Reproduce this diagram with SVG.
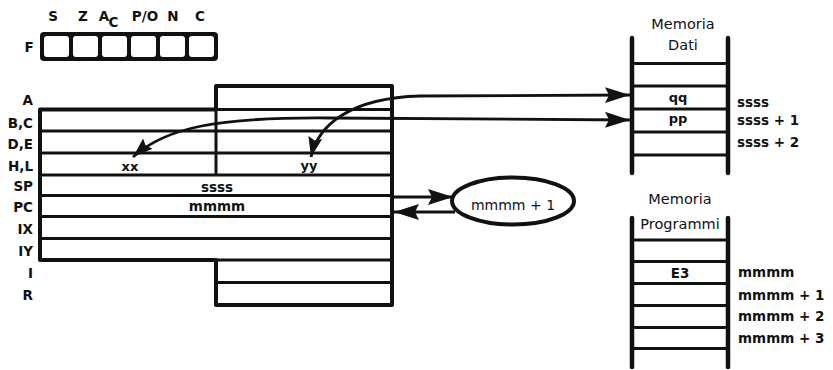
<svg xmlns="http://www.w3.org/2000/svg" width="833" height="370" viewBox="0 0 833 370">
<style>
.lbl{font-family:"DejaVu Sans","Liberation Sans",sans-serif;font-weight:bold;font-size:13.5px;fill:#111}
.reg{text-anchor:end}
.mid{text-anchor:middle}
.title{font-family:"DejaVu Sans","Liberation Sans",sans-serif;font-size:14.5px;fill:#111;text-anchor:middle}
.outline{fill:#fff;stroke:#111;stroke-width:4;stroke-linejoin:round}
.row{fill:none;stroke:#111;stroke-width:3}
.rail{stroke:#111;stroke-width:4.5;stroke-linecap:round}
.cell{stroke:#111;stroke-width:3}
.conn{fill:none;stroke:#111;stroke-width:2.8}
</style>
<defs>
<marker id="ah" markerUnits="userSpaceOnUse" markerWidth="28" markerHeight="18" refX="25" refY="8" orient="auto-start-reverse">
<path d="M0,0 L25,8 L0,16 L4,8 z" fill="#111"/>
</marker>
<marker id="ahs" markerUnits="userSpaceOnUse" markerWidth="22" markerHeight="16" refX="20" refY="7" orient="auto-start-reverse">
<path d="M0,0 L20,7 L0,14 L3,7 z" fill="#111"/>
</marker>
</defs>
<rect width="833" height="370" fill="#fff"/>

<g id="flags">
<text class="lbl mid" x="53" y="21">S</text>
<text class="lbl mid" x="83" y="21">Z</text>
<text class="lbl mid" x="104" y="21">A</text>
<text class="lbl mid" x="113.5" y="26.5">C</text>
<text class="lbl mid" x="145" y="21">P/O</text>
<text class="lbl mid" x="173" y="21">N</text>
<text class="lbl mid" x="200" y="21">C</text>
<text class="lbl mid" x="29" y="51.5">F</text>
<rect x="40" y="32" width="178" height="29" rx="4" fill="#111"/>
<rect x="44" y="36" width="25" height="21" rx="3" fill="#fff"/>
<rect x="73" y="36" width="25" height="21" rx="3" fill="#fff"/>
<rect x="102" y="36" width="25" height="21" rx="3" fill="#fff"/>
<rect x="131" y="36" width="25" height="21" rx="3" fill="#fff"/>
<rect x="160" y="36" width="25" height="21" rx="3" fill="#fff"/>
<rect x="189" y="36" width="25" height="21" rx="3" fill="#fff"/>
</g>

<g id="registers">
<path class="outline" d="M40,109.5 H216 V86 H392 V305 H216 V260 H40 Z"/>
<path class="row" d="M216,109.5 H392 M40,131 H392 M40,153 H392 M40,175 H392 M40,195.5 H392 M40,216.5 H392 M40,238.5 H392 M216,260 H392 M216,282.5 H392 M216,109.5 V175"/>
<text class="lbl reg" x="33" y="105">A</text>
<text class="lbl reg" x="33" y="127.5">B,C</text>
<text class="lbl reg" x="33" y="149">D,E</text>
<text class="lbl reg" x="33" y="171">H,L</text>
<text class="lbl reg" x="33" y="191">SP</text>
<text class="lbl reg" x="33" y="212">PC</text>
<text class="lbl reg" x="33" y="234">IX</text>
<text class="lbl reg" x="33" y="255.5">IY</text>
<text class="lbl reg" x="33" y="277.5">I</text>
<text class="lbl reg" x="33" y="300">R</text>
<text class="lbl mid" x="130" y="171" style="font-size:13px">xx</text>
<text class="lbl mid" x="309" y="170" style="font-size:13px">yy</text>
<text class="lbl mid" x="217" y="192">ssss</text>
<text class="lbl mid" x="217" y="210.5">mmmm</text>
</g>

<g id="incrementer">
<ellipse cx="513" cy="201" rx="61" ry="23.5" fill="#fff" stroke="#111" stroke-width="4"/>
<text class="title" x="513" y="210" style="font-size:14px">mmmm + 1</text>
</g>

<g id="memoria-dati">
<text class="title" x="683" y="28.5">Memoria</text>
<text class="title" x="683" y="50">Dati</text>
<line class="rail" x1="632" y1="38" x2="632" y2="173"/>
<line class="rail" x1="728" y1="38" x2="728" y2="173"/>
<path class="cell" d="M632,63.5 H728 M632,86 H728 M632,109 H728 M632,132 H728 M632,155 H728"/>
<text class="lbl mid" x="678" y="101.5" style="font-size:13px">qq</text>
<text class="lbl mid" x="678" y="123" style="font-size:13px">pp</text>
<text class="lbl" x="737" y="106.5">ssss</text>
<text class="lbl" x="737" y="125">ssss + 1</text>
<text class="lbl" x="737" y="147">ssss + 2</text>
</g>

<g id="memoria-programmi">
<text class="title" x="680" y="204">Memoria</text>
<line class="rail" x1="632" y1="218" x2="632" y2="367"/>
<line class="rail" x1="728" y1="218" x2="728" y2="367"/>
<rect x="637" y="214" width="86" height="19" fill="#fff"/>
<text class="title" x="680" y="229">Programmi</text>
<path class="cell" d="M632,240 H728 M632,261.5 H728 M632,283.5 H728 M632,305.5 H728 M632,327.5 H728 M632,348.5 H728"/>
<text class="lbl mid" x="680" y="277.5">E3</text>
<text class="lbl" x="738" y="277">mmmm</text>
<text class="lbl" x="738" y="300">mmmm + 1</text>
<text class="lbl" x="738" y="321">mmmm + 2</text>
<text class="lbl" x="738" y="342.5">mmmm + 3</text>
</g>

<g id="connectors">
<path class="conn" d="M133,157 C165,128 215,117 330,118 L630,120" marker-start="url(#ahs)" marker-end="url(#ah)"/>
<path class="conn" d="M311,157 C318,125 350,98 420,96 L630,95" marker-start="url(#ahs)" marker-end="url(#ah)"/>
<path class="conn" d="M392,197 H453" marker-end="url(#ah)"/>
<path class="conn" d="M455,212 H394" marker-end="url(#ah)"/>
</g>
</svg>
